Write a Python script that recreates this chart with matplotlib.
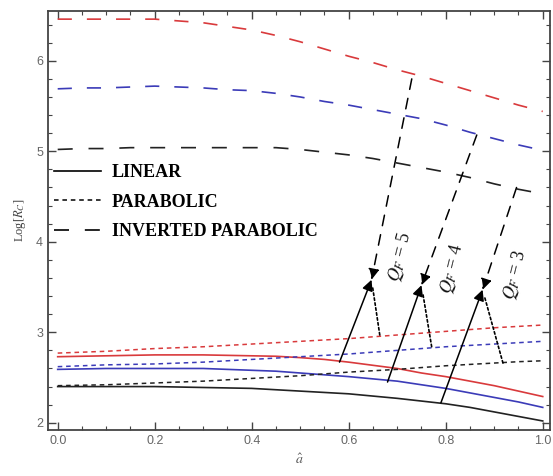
"""
Log[R_C] versus a-hat for linear, parabolic and inverted parabolic profiles
"""

import matplotlib

matplotlib.use("Agg")
import matplotlib.pyplot as plt
from matplotlib.lines import Line2D

plt.rcParams["font.family"] = ["Liberation Serif", "DejaVu Serif"]
plt.rcParams["mathtext.fontset"] = "stix"

# x values (a-hat)
a_hat = [0.0, 0.05, 0.1, 0.15, 0.2, 0.25, 0.3, 0.35, 0.4, 0.45, 0.5,
         0.55, 0.6, 0.65, 0.7, 0.75, 0.8, 0.85, 0.9, 0.95, 1.0]

# linear profile (solid)
lin_q5 = [2.73, 2.735, 2.74, 2.745, 2.75, 2.75, 2.75, 2.745, 2.74, 2.735, 2.72,
          2.70, 2.67, 2.635, 2.60, 2.55, 2.51, 2.46, 2.41, 2.35, 2.29]
lin_q4 = [2.59, 2.595, 2.60, 2.60, 2.60, 2.60, 2.60, 2.59, 2.58, 2.57, 2.55,
          2.53, 2.51, 2.485, 2.46, 2.42, 2.38, 2.33, 2.28, 2.23, 2.17]
lin_q3 = [2.40, 2.40, 2.40, 2.40, 2.40, 2.395, 2.39, 2.385, 2.38, 2.365, 2.35,
          2.335, 2.32, 2.295, 2.27, 2.24, 2.21, 2.17, 2.12, 2.07, 2.02]

# parabolic profile (short dash)
par_q5 = [2.77, 2.78, 2.79, 2.805, 2.82, 2.83, 2.84, 2.855, 2.87, 2.885, 2.90,
          2.915, 2.93, 2.95, 2.97, 2.99, 3.01, 3.03, 3.05, 3.065, 3.08]
par_q4 = [2.62, 2.63, 2.64, 2.645, 2.65, 2.66, 2.67, 2.685, 2.70, 2.715, 2.73,
          2.745, 2.76, 2.78, 2.80, 2.82, 2.84, 2.855, 2.87, 2.885, 2.90]
par_q3 = [2.41, 2.415, 2.42, 2.43, 2.44, 2.45, 2.46, 2.475, 2.49, 2.505, 2.52,
          2.54, 2.56, 2.575, 2.59, 2.61, 2.63, 2.645, 2.66, 2.675, 2.685]

# inverted parabolic profile (long dash)
inv_q5 = [6.46, 6.46, 6.46, 6.46, 6.46, 6.44, 6.42, 6.38, 6.34, 6.28, 6.21,
          6.13, 6.05, 5.98, 5.90, 5.83, 5.75, 5.67, 5.59, 5.51, 5.44]
inv_q4 = [5.69, 5.70, 5.70, 5.71, 5.72, 5.71, 5.70, 5.68, 5.67, 5.64, 5.60,
          5.55, 5.51, 5.46, 5.41, 5.36, 5.29, 5.21, 5.14, 5.07, 5.01]
inv_q3 = [5.02, 5.03, 5.03, 5.04, 5.04, 5.04, 5.04, 5.04, 5.04, 5.04, 5.02,
          4.99, 4.96, 4.92, 4.87, 4.82, 4.77, 4.71, 4.64, 4.58, 4.53]

red = "#d93a3c"
blue = "#3b3bb8"
black = "#222222"

# annotation anchors: start on linear, on parabolic, on inverted, meeting point
q_labels = ["$Q_F$ = 5", "$Q_F$ = 4", "$Q_F$ = 3"]
lin_start = [(0.581, 2.67), (0.68, 2.45), (0.79, 2.22)]
par_start = [(0.664, 2.97), (0.771, 2.84), (0.918, 2.66)]
inv_start = [(0.73, 5.80), (0.864, 5.18), (0.946, 4.60)]
meet = [(0.647, 3.58), (0.75, 3.52), (0.876, 3.47)]
label_pos = [(0.706, 3.84), (0.812, 3.70), (0.942, 3.63)]

fig = plt.figure(figsize=(5.53, 4.76), dpi=100)
ax = fig.add_axes([0.0868, 0.0966, 0.9078, 0.8803])

for y, c in zip([lin_q5, lin_q4, lin_q3], [red, blue, black]):
    ax.plot(a_hat, y, color=c, lw=1.2, ls="-")
for y, c in zip([par_q5, par_q4, par_q3], [red, blue, black]):
    ax.plot(a_hat, y, color=c, lw=1.1, ls=(0, (3, 2.5)))
ax.plot(a_hat, inv_q5, color=red, lw=1.2, ls=(0, (8.5, 9)))
ax.plot(a_hat, inv_q4, color=blue, lw=1.2, ls=(0, (8.5, 9)))
ax.plot(a_hat, inv_q3, color=black, lw=1.2, ls=(0, (9, 9.5)))

# arrows pointing to the Q_F labels
for i in range(3):
    ax.annotate(
        "", xy=meet[i], xytext=lin_start[i],
        arrowprops=dict(arrowstyle="-|>", color="black", lw=1.1,
                        mutation_scale=16, shrinkA=0, shrinkB=0),
    )
    ax.annotate(
        "", xy=meet[i], xytext=inv_start[i],
        arrowprops=dict(arrowstyle="-|>", color="black", lw=1.1, ls=(0, (7, 6)),
                        mutation_scale=16, shrinkA=0, shrinkB=0),
    )
    ax.annotate(
        "", xy=meet[i], xytext=par_start[i],
        arrowprops=dict(arrowstyle="-", color="black", lw=1.2, ls=(0, (1.5, 1.5)),
                        shrinkA=0, shrinkB=6),
    )
    ax.text(label_pos[i][0], label_pos[i][1], q_labels[i], rotation=76,
            ha="center", va="center", fontsize=13, color="#111111")

# legend
handles = [
    Line2D([], [], color="black", lw=1.2, ls="-"),
    Line2D([], [], color="black", lw=1.1, ls=(0, (3, 2.5))),
    Line2D([], [], color="black", lw=1.2, ls=(0, (9, 9.5))),
]
leg = ax.legend(
    handles, ["LINEAR", "PARABOLIC", "INVERTED PARABOLIC"],
    loc="center left", bbox_to_anchor=(0.012, 0.544), frameon=False,
    handlelength=2.6, handletextpad=0.6, labelspacing=0.7,
    borderpad=0, borderaxespad=0,
    prop={"family": ["Liberation Serif"], "weight": "bold", "size": 13},
)

ax.set_xlim(-0.02, 1.015)
ax.set_ylim(1.92, 6.55)
ax.set_xticks([0.0, 0.2, 0.4, 0.6, 0.8, 1.0])
ax.set_xticklabels(["0.0", "0.2", "0.4", "0.6", "0.8", "1.0"])
ax.set_yticks([2, 3, 4, 5, 6])
ax.set_xticks([i * 0.05 for i in range(21)], minor=True)
ax.set_yticks([2 + i * 0.2 for i in range(23)], minor=True)
ax.tick_params(which="both", direction="in", top=True, right=True,
               colors="#444444", labelcolor="#666666", labelsize=9)
ax.tick_params(which="major", length=6, width=1)
ax.tick_params(which="minor", length=3, width=0.8)
for lab in ax.get_xticklabels() + ax.get_yticklabels():
    lab.set_family(["Liberation Sans", "DejaVu Sans"])
for s in ax.spines.values():
    s.set_color("#444444")
    s.set_linewidth(1.3)

ax.set_xlabel("$\\hat{a}$", fontsize=10, color="#555555", labelpad=4)
ax.set_ylabel("Log[$R_C$]", fontsize=9, color="#444444", labelpad=6)

fig.savefig("out.png", dpi=100)
